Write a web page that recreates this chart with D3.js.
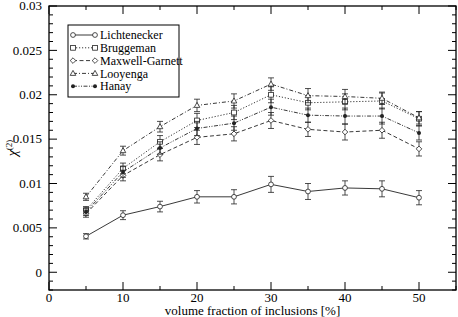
<!DOCTYPE html>
<html><head><meta charset="utf-8">
<script src="https://cdn.jsdelivr.net/npm/d3@7"></script>
</head><body style="margin:0;background:#fff"><svg id="c" width="458" height="317"></svg>
<script>
const xs = [5,10,15,20,25,30,35,40,45,50];
const seriesNames = ["Lichtenecker","Bruggeman","Maxwell-Garnett","Looyenga","Hanay"];
const lichtenecker = [0.00405,0.00643,0.0074,0.0085,0.0085,0.0099,0.0091,0.0095,0.0094,0.0084];
const bruggeman    = [0.0070,0.0117,0.0147,0.0171,0.0180,0.0200,0.0191,0.0192,0.0193,0.0173];
const maxwell      = [0.0066,0.0109,0.01325,0.0152,0.0156,0.0171,0.0161,0.0158,0.0160,0.0139];
const looyenga     = [0.0085,0.0137,0.0164,0.0188,0.0193,0.0212,0.0199,0.0198,0.0196,0.0174];
const hanay        = [0.0068,0.0113,0.0140,0.0162,0.0168,0.0186,0.0177,0.0176,0.0176,0.0157];
const errLicht = [0.0003,0.0005,0.0006,0.0007,0.0008,0.0009,0.0009,0.0008,0.0009,0.0008];
const errBrug  = [0.0004,0.0006,0.0007,0.0008,0.0008,0.0009,0.0008,0.0009,0.0009,0.0008];
const errMax   = [0.0004,0.0006,0.0007,0.0008,0.0008,0.0009,0.0008,0.0009,0.0009,0.0008];
const errLooy  = [0.0004,0.0005,0.0006,0.0007,0.0008,0.0007,0.0008,0.0008,0.0007,0.0007];
const errHan   = [0.0004,0.0006,0.0007,0.0008,0.0008,0.0009,0.0008,0.0009,0.0009,0.0008];
const xTicks = [0,10,20,30,40,50];
const yTicks = [0,0.005,0.01,0.015,0.02,0.025,0.03];

const series = [
  {name:seriesNames[0], v:lichtenecker, e:errLicht, dash:null, sym:"circle"},
  {name:seriesNames[1], v:bruggeman, e:errBrug, dash:"1.2,1.8", sym:"square"},
  {name:seriesNames[2], v:maxwell, e:errMax, dash:"4,2.5", sym:"diamond"},
  {name:seriesNames[3], v:looyenga, e:errLooy, dash:"4,2,1,2", sym:"triangle"},
  {name:seriesNames[4], v:hanay, e:errHan, dash:"4,1.5,1,1.5,1,1.5", sym:"dot"}
];

const L=49, R=456, T=6, B=290;
const x = d3.scaleLinear().domain([0,55]).range([L,R]);
const y = d3.scaleLinear().domain([-0.002,0.03]).range([B,T]);
const svg = d3.select("#c");
const ink = "#222";

function marker(g, sym, cx, cy){
  const sw = 0.8;
  if(sym==="circle") g.append("circle").attr("cx",cx).attr("cy",cy).attr("r",2.4).attr("fill","#fff").attr("stroke",ink).attr("stroke-width",sw);
  else if(sym==="square") g.append("rect").attr("x",cx-2.4).attr("y",cy-2.4).attr("width",4.8).attr("height",4.8).attr("fill","#fff").attr("stroke",ink).attr("stroke-width",sw);
  else if(sym==="diamond") g.append("path").attr("d",`M${cx},${cy-2.8}L${cx+2.8},${cy}L${cx},${cy+2.8}L${cx-2.8},${cy}Z`).attr("fill","#fff").attr("stroke",ink).attr("stroke-width",sw);
  else if(sym==="triangle") g.append("path").attr("d",`M${cx},${cy-3}L${cx+2.8},${cy+2}L${cx-2.8},${cy+2}Z`).attr("fill","#fff").attr("stroke",ink).attr("stroke-width",sw);
  else g.append("circle").attr("cx",cx).attr("cy",cy).attr("r",2).attr("fill",ink);
}
function txt(size){ return svg.append("text").attr("font-family","Liberation Serif").attr("font-size",size).style("font-family",'"Liberation Serif", serif').attr("fill","#000"); }

// frame + ticks
const ax = svg.append("g");
ax.append("rect").attr("x",L).attr("y",T).attr("width",R-L).attr("height",B-T).attr("fill","none").attr("stroke","#000").attr("stroke-width",1.3);
const xMinor = d3.range(0,56,5), yMinor = d3.range(-2,31,1).map(d=>d/1000);
xMinor.forEach(v=>{
  const major = v%10===0; const len = major?8:4;
  ax.append("line").attr("x1",x(v)).attr("x2",x(v)).attr("y1",B).attr("y2",B-len).attr("stroke","#000");
  ax.append("line").attr("x1",x(v)).attr("x2",x(v)).attr("y1",T).attr("y2",T+len).attr("stroke","#000");
});
yMinor.forEach(v=>{
  const major = Math.round(v*1000)%5===0; const len = major?8:4;
  ax.append("line").attr("y1",y(v)).attr("y2",y(v)).attr("x1",L).attr("x2",L+len).attr("stroke","#000");
  ax.append("line").attr("y1",y(v)).attr("y2",y(v)).attr("x1",R).attr("x2",R-len).attr("stroke","#000");
});
xTicks.forEach(v=>txt(13).attr("x",x(v)).attr("y",B+12).attr("text-anchor","middle").text(v));
yTicks.forEach(v=>txt(13).attr("x",L-7).attr("y",y(v)+4.3).attr("text-anchor","end").text(v===0?"0":String(+v.toFixed(3))));

txt(13).attr("x",x(27.5)).attr("y",B+24.5).attr("text-anchor","middle").text("volume fraction of inclusions [%]");
const yl = txt(14).attr("transform",`translate(17,${(T+B)/2}) rotate(-90)`).attr("text-anchor","middle");
yl.append("tspan").style("font-style","italic").text("χ");
yl.append("tspan").attr("font-size",9).attr("dy",-5).text("(2)");

// series
const line = d3.line().x((d,i)=>x(xs[i])).y(d=>y(d));
series.forEach(s=>{
  const g = svg.append("g");
  g.append("path").attr("d",line(s.v)).attr("fill","none").attr("stroke",ink).attr("stroke-width",0.9).attr("stroke-dasharray",s.dash);
  s.v.forEach((v,i)=>{
    const cx=x(xs[i]), y1=y(v-s.e[i]), y2=y(v+s.e[i]);
    g.append("line").attr("x1",cx).attr("x2",cx).attr("y1",y1).attr("y2",y2).attr("stroke",ink).attr("stroke-width",0.8);
    g.append("line").attr("x1",cx-3).attr("x2",cx+3).attr("y1",y1).attr("y2",y1).attr("stroke",ink).attr("stroke-width",0.8);
    g.append("line").attr("x1",cx-3).attr("x2",cx+3).attr("y1",y2).attr("y2",y2).attr("stroke",ink).attr("stroke-width",0.8);
    marker(g,s.sym,cx,y(v));
  });
});

// legend
const lg = svg.append("g");
lg.append("rect").attr("x",68).attr("y",25).attr("width",111).attr("height",72).attr("fill","#fff").attr("stroke","#000").attr("stroke-width",1);
series.forEach((s,i)=>{
  const ly = 35 + i*12.8;
  lg.append("line").attr("x1",73).attr("x2",95).attr("y1",ly).attr("y2",ly).attr("stroke",ink).attr("stroke-width",0.9).attr("stroke-dasharray",s.dash);
  marker(lg,s.sym,73,ly); marker(lg,s.sym,95,ly);
});
series.forEach((s,i)=>{
  const ly = 35 + i*12.8;
  txt(12).attr("x",100).attr("y",ly+4.2).text(s.name);
});
</script></body></html>
